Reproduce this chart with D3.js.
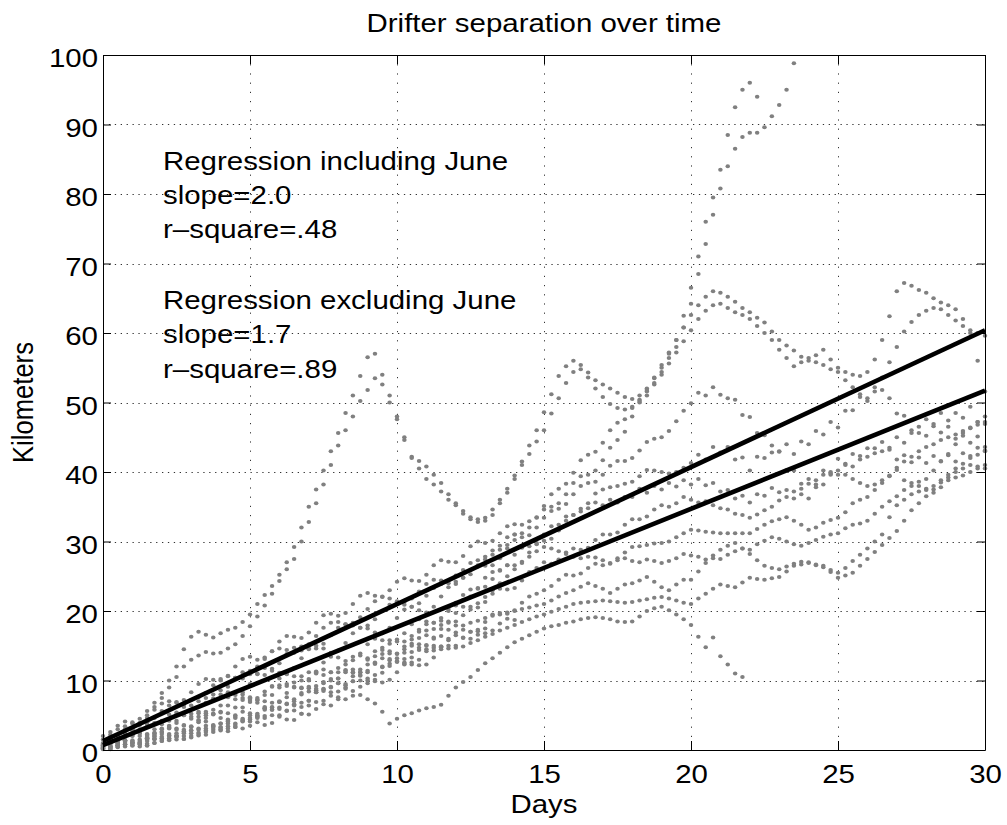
<!DOCTYPE html>
<html>
<head>
<meta charset="utf-8">
<script src="https://cdn.jsdelivr.net/npm/d3@7"></script>
<style>
  body { margin: 0; background: #fff; }
  svg { display: block; }
  text { font-family: "Liberation Sans", Arial, Helvetica, sans-serif; fill: #000; }
</style>
</head>
<body>
<div id="chart"></div>
<script>
// separations are sampled every STEP days, starting at day 0
const STEP = 0.25;

// km, one array per drifter pair
const juneA = [1.0,1.5,2.2,3.0,3.8,4.5,5.6,6.8,8.2,10.0,12.0,14.5,16.3,17.0,16.6,16.2,16.8,17.3,17.6,18.4,19.5,
  21.0,22.3,23.6,25.2,27.0,29.2,32.0,35.0,37.5,40.2,43.0,45.6,48.5,51.0,53.8,56.5,57.0,54.0,51.0,48.0,
  45.0,42.0,40.5,39.0,38.2,37.2,36.0,35.2,34.0,33.5,33.2,33.0,33.8,35.5,37.0,39.5,41.5,43.8,46.0,48.6,
  51.2,53.8,55.2,56.0,55.4,54.3,53.2,52.6,52.0,51.4,50.8,50.5,51.0,51.8,53.5,55.0,57.0,59.0,62.5,66.5,
  71.0,76.0,79.5,83.5,88.5,92.5,95.0,96.0,94.0];
const juneB = [0.6,1.0,1.6,2.3,3.0,3.9,5.0,6.2,7.5,9.0,10.5,12.0,13.0,13.6,14.1,13.9,14.0,14.6,15.2,16.4,17.8,
  19.2,20.8,22.5,24.3,26.0,27.5,30.0,32.8,35.5,38.2,41.0,43.8,46.0,48.0,50.2,51.8,53.5,52.6,50.0,47.6,
  44.6,42.2,41.6,40.8,39.6,38.4,36.8,35.5,34.4,33.2,32.8,33.4,34.6,36.0,37.6,39.0,41.0,42.6,44.4,46.0,
  48.4,50.6,52.8,54.4,54.8,53.6,52.0,50.8,49.8,49.2,49.0,49.4,50.2,51.0,52.6,54.4,56.4,58.0,60.8,64.2,
  68.5,72.8,77.0,80.8,84.0,86.5,88.2,88.8,88.8,89.6,91.2,92.8,95.0,98.8];
const pairB = [1.5,2.2,3.0,3.4,3.1,3.0,3.6,4.6,5.6,6.4,6.8,6.5,6.4,7.0,8.2,9.3,10.2,10.6,10.4,10.3,10.9,
  12.0,13.3,14.2,14.6,14.4,14.0,14.3,15.2,16.4,17.6,18.3,18.4,18.1,18.3,19.1,20.3,21.4,22.0,21.8,21.4,
  21.3,21.8,22.8,23.9,24.5,24.4,24.3,25.1,25.9,26.9,27.3,27.4,28.1,29.4,30.6,31.0,31.2,32.0,33.4,34.6,
  35.0,35.5,36.8,38.4,39.4,39.6,40.2,41.7,43.5,44.6,45.8,48.0,50.0,52.0,53.6,55.4,57.2,59.0,60.8,62.6,
  64.0,65.2,66.0,65.8,65.2,64.5,63.6,63.0,62.2,61.5,60.2,59.0,58.2,57.5,56.6,56.0,56.8,57.6,56.2,55.0,
  54.4,54.0,53.8,54.4,56.2,59.0,62.4,66.0,67.2,66.8,66.2,65.8,65.0,64.4,64.0,63.4,62.0,60.0,56.0,51.6];
const pairB2 = [0.9,1.0,1.2,1.9,2.8,3.6,4.0,3.9,3.7,4.2,5.1,6.2,7.2,7.6,7.5,7.4,8.0,9.1,10.4,11.2,11.4,
  11.0,10.8,11.4,12.5,13.8,14.7,14.9,14.6,14.6,15.3,16.5,17.6,18.1,17.9,17.6,17.9,18.8,20.0,20.9,21.2,
  20.9,20.6,21.1,22.2,23.3,23.9,24.0,24.2,24.8,25.3,26.4,27.8,28.7,28.8,29.5,31.0,32.4,32.9,33.5,35.1,
  36.8,37.6,38.3,39.9,41.7,42.5,42.9,44.2,46.0,47.1,47.6,49.2,50.4,51.6,52.8,54.0,55.6,57.2,58.8,60.4,
  62.0,63.2,64.0,64.2,63.6,63.0,62.6,62.0,61.0,60.0,59.0,57.6,56.4,55.2,55.8,56.4,55.8,55.4,54.8,54.4,
  53.2,52.2,51.2,50.6,51.6,53.6,55.8,58.0,60.2,61.6,62.6,63.2,63.6,63.4,62.6,61.8,61.0,60.4,60.0,59.6];
const pairC = [0.4,1.0,1.9,2.4,2.3,2.0,2.2,3.0,4.2,5.1,5.4,5.0,4.8,5.5,6.8,8.0,8.6,8.3,7.9,8.3,9.5,
  10.9,11.8,11.7,11.1,11.0,11.8,13.2,14.5,15.0,14.6,14.0,14.3,15.4,16.8,17.6,17.5,16.9,16.8,17.6,19.0,
  20.2,20.6,20.1,19.8,20.6,22.1,23.4,23.9,24.8,25.9,26.6,26.5,26.6,27.6,29.0,30.2,30.6,30.9,32.0,33.4,
  34.4,34.7,35.4,36.8,38.0,38.4,38.6,39.6,40.9,41.6,41.6,42.0,43.1,44.3,44.8,45.0,45.9,47.3,48.8,49.9,
  51.4,51.0,52.2,51.1,50.6,50.4,48.2,47.9,45.6,45.3,42.8,42.9,40.3,40.2,38.3,39.0,38.2,40.2,40.0,41.9,
  41.2,42.6,41.8,43.4,42.7,44.3,43.5,45.0,44.2,46.0,45.6,47.6,46.9,48.5,47.4,48.5,47.8,49.4,47.2,46.9];
const pairD = [0.3,0.4,0.7,1.3,2.0,2.4,2.3,2.0,2.3,3.1,4.2,5.0,5.2,4.8,4.6,5.2,6.4,7.6,8.2,8.0,7.4,
  7.2,7.9,9.1,10.3,10.9,10.6,10.0,10.2,11.3,12.6,13.4,13.3,12.8,12.9,13.9,15.2,16.0,15.8,15.3,15.6,
  16.8,18.1,18.8,18.5,18.3,19.0,20.3,21.2,22.3,23.1,23.2,23.5,24.6,25.9,26.6,26.6,27.1,28.4,29.6,30.1,
  30.4,31.6,33.0,33.8,34.3,35.5,36.9,37.5,37.8,38.0,38.3,38.6,39.4,40.3,40.2,40.0,39.8,40.0,40.6,41.3,
  42.5,41.8,43.6,42.8,43.6,41.8,42.1,40.2,42.2,42.0,43.8,43.0,44.0,42.6,44.4,44.0,45.9,45.4,47.2,46.4,
  48.8,48.9,50.8,50.2,52.2,51.8,50.6,48.4,48.1,45.6,46.5,45.2,46.6,45.7,46.5,44.8,45.6,44.2,45.1,43.6];
const pairX1 = [0.2,0.6,1.2,1.4,1.1,0.9,1.3,2.2,3.0,3.2,2.9,2.7,3.3,4.3,5.0,5.1,4.6,4.4,5.0,6.1,6.9,
  6.8,6.2,6.1,6.9,8.2,9.0,8.9,8.4,8.6,9.8,11.2,11.8,11.5,11.1,11.6,13.0,14.2,14.4,13.9,13.8,
  14.9,16.4,17.3,17.2,17.4,18.6,20.0,20.8,21.6,22.1,23.3,24.8,25.6,25.8,26.6,28.1,29.1,29.3,29.8,31.0,
  32.2,32.4,33.6,33.8,34.7,34.8,35.6,35.2,36.0,35.6,36.4,36.4,37.6,37.0,38.0,37.5,38.4,37.9,38.8,38.2,
  39.0,38.1,38.4,37.2,37.4,36.2,36.6,35.6,36.8,36.6,37.7,37.1,37.4,36.2,36.8,36.2,37.8,38.2,39.6,39.6,
  41.0,40.8,42.3,42.2,43.4,43.0,43.2,41.8,42.4,41.4,42.1,41.3,42.3,41.6,42.4,41.5,42.7,42.3,43.5,43.1];
const pairX2 = [0.8,1.2,1.5,1.3,1.0,1.1,1.7,2.4,2.6,2.3,2.0,2.4,3.3,4.0,4.1,3.6,3.3,3.8,4.8,5.5,5.3,
  4.8,4.9,5.8,7.0,7.6,7.3,6.8,7.1,8.3,9.6,10.0,9.6,9.3,9.9,11.2,12.3,12.4,11.9,12.1,13.2,
  14.5,15.3,15.2,15.1,16.0,17.4,18.3,18.5,19.4,20.2,21.1,22.0,23.0,24.0,25.0,26.0,26.9,27.8,28.6,29.2,
  29.0,28.6,28.2,27.8,27.6,27.8,27.7,27.3,26.9,27.6,28.4,29.2,29.3,29.5,29.7,29.8,30.0,30.6,31.2,31.7,
  31.6,31.4,31.3,31.2,31.2,31.2,31.2,31.2,31.8,32.4,32.9,33.2,33.5,33.0,32.4,31.7,32.0,32.7,33.1,33.4,
  34.2,35.5,36.0,36.4,37.4,38.4,39.4,40.3,38.8,38.4,38.0,37.6,37.0,37.8,38.8,39.2,39.5,40.0,40.5,41.0];
const pairE = [0.6,0.9,0.7,0.5,0.9,1.5,1.8,1.6,1.3,1.6,2.4,2.9,2.8,2.3,2.2,2.9,3.8,4.1,3.6,3.1,3.5,
  4.6,5.8,6.2,5.9,5.7,6.6,8.0,8.9,8.8,8.5,9.0,10.3,11.4,11.6,11.2,11.4,12.6,13.8,14.2,13.9,
  14.0,15.0,16.1,16.5,16.2,16.4,17.3,17.9,17.9,18.3,18.6,19.0,19.3,19.5,19.8,20.0,20.3,20.5,20.8,21.0,
  21.5,22.1,22.6,23.0,23.5,24.0,23.6,23.2,22.6,23.2,23.8,24.0,24.4,24.9,24.2,23.4,23.0,23.8,24.5,24.5,
  25.7,26.9,28.0,28.8,29.4,29.8,29.0,28.2,27.3,26.5,26.2,26.0,26.4,26.8,27.1,27.0,26.6,26.3,25.9,25.5,
  26.2,27.2,28.1,29.0,30.0,31.0,33.5,35.2,36.0,36.8,37.2,37.4,38.0,38.8,39.6,40.5,41.2,42.0,42.5,43.0];
const pairF = [0.5,0.3,0.6,1.0,1.2,0.9,0.7,1.0,1.6,2.0,1.9,1.6,1.8,2.5,3.1,3.2,2.8,2.7,3.3,4.1,4.4,
  4.0,3.6,3.9,4.8,5.6,5.7,5.2,5.1,5.9,7.1,7.8,7.6,7.3,7.8,9.1,10.0,10.1,9.7,10.1,11.2,
  12.3,12.6,12.2,12.3,13.3,14.5,15.0,14.7,14.9,15.4,15.8,16.3,16.7,17.2,17.6,18.0,18.4,18.8,19.2,19.5,
  19.9,20.3,20.6,21.0,21.2,21.3,21.4,21.5,21.4,21.3,21.2,21.3,21.5,21.7,21.9,22.0,21.8,21.5,21.2,21.0,
  21.8,22.5,23.2,23.8,23.6,23.4,24.1,24.8,24.6,24.5,24.7,24.9,25.7,26.5,26.7,26.9,26.7,26.5,25.6,24.8,
  25.1,25.5,26.5,27.5,28.5,29.5,30.5,31.5,33.0,34.5,35.5,36.5,37.5,38.5,39.2,40.0,40.5,41.0,40.8,40.5];
const pairJ = [0.7,1.1,0.9,1.4,2.1,2.4,2.0,1.9,2.6,3.5,3.9,3.6,3.4,4.2,5.3,5.8,5.5,5.3,6.1,7.2,7.6,
  7.2,7.0,7.9,9.0,9.5,9.1,9.0,10.0,11.2,11.6,11.2,11.2,12.3,13.4,13.6,13.2,13.5,14.7,15.8,15.9,
  15.6,15.9,17.0,18.1,18.3,18.0,18.5,19.7,20.6,20.6,20.5,21.3,22.5,23.2,23.1,23.3,24.4,25.6,26.2,27.0,
  26.8,27.4,28.4,29.0,28.8,29.1,30.2,31.0,31.0,31.3,32.4,33.2,33.2,33.6,34.6,35.2,35.0,35.5,36.4,36.0,
  35.6,35.8,35.2,34.8,34.6,34.0,33.8,33.4,33.9,34.5,35.0,35.9,36.4,37.2,37.6,38.3,38.8,39.6,39.8,40.2,
  39.6,39.0,38.4,38.0,38.2,38.8,39.5,40.6,41.5,42.2,43.0,43.6,44.0,44.6,45.0,45.4,45.9,46.4,46.8,47.2];
const pairK = [0.3,0.5,0.9,0.8,0.6,1.0,1.5,1.6,1.3,1.4,2.1,2.6,2.4,2.1,2.6,3.5,3.8,3.4,3.3,4.2,5.0,
  5.0,4.6,5.0,6.1,6.7,6.4,6.2,7.1,8.3,8.7,8.3,8.4,9.5,10.6,10.7,10.3,10.8,12.0,12.9,12.7,
  12.6,13.3,14.4,15.0,14.7,14.8,15.8,16.9,17.3,17.0,17.3,18.4,19.5,19.7,19.6,20.1,21.2,22.1,22.5,23.0,
  23.6,24.5,25.2,25.1,25.4,26.2,26.8,26.6,26.8,27.3,27.6,27.2,27.0,27.4,27.2,26.9,27.2,27.6,28.2,28.0,
  27.8,27.4,27.6,27.5,28.1,28.6,29.0,28.8,29.6,30.1,30.6,30.4,30.0,29.6,29.4,29.8,30.2,30.7,31.0,31.2,
  31.9,32.4,32.6,33.0,34.0,35.0,35.8,36.5,37.4,38.0,38.6,39.0,40.2,41.5,42.6,44.0,45.2,46.3,47.2,48.0];
const pairT = [0.3,0.5,0.9,1.3,1.4,1.3,1.7,2.5,3.1,3.3,3.1,3.5,4.5,5.3,5.5,5.2,5.4,6.4,7.3,7.5,7.2,
  7.5,8.4,9.2,9.3,9.2,9.7,10.6,11.2,11.0,10.8,10.2,9.6,9.0,8.5,7.9,7.3,6.7,5.5,3.8,4.5,
  5.0,5.3,5.7,6.0,6.2,6.5,7.8,9.0,9.8,10.5,11.5,12.5,13.2,14.0,14.8,15.5,16.0,16.5,17.0,17.5,
  17.8,18.0,18.3,18.5,18.8,19.0,19.1,19.0,18.8,18.5,18.4,18.5,19.2,20.0,20.4,20.6,20.1,19.5,18.8,18.0,
  16.3,14.8,16.2,13.5,12.3,11.0,10.5];
const pairG = [0.2,0.1,0.4,0.8,1.0,0.8,0.6,1.0,1.7,2.1,1.9,1.6,2.0,2.9,3.5,3.4,3.0,3.1,3.8,4.5,4.6,
  5.2,6.0,5.8,5.0,4.4,4.3,5.2,6.4,6.9,6.6,6.4,7.3,8.8,9.9,10.0,9.6,9.9,11.1,12.4,12.8,
  12.4,12.3,13.0,14.2,15.0,14.9,14.6,15.0,16.1,17.0,17.1,16.8,17.2,18.2,18.9,18.7];
const pairH = [2.0,2.6,3.5,4.1,4.0,3.9,4.6,5.8,6.7,7.0,6.9,7.2,8.3,9.5,10.2,10.1,10.0,10.7,12.0,13.1,13.4,
  13.0,13.1,14.2,15.6,16.4,16.3,16.1,16.9,18.3,19.4,19.6,19.3,19.7,21.0,22.2,22.6,22.2,22.1,23.0,24.2,
  24.7,24.4,24.3,25.2,26.6,27.3,27.1,27.0,27.9,29.3,30.0,29.8,30.1,31.2,32.2,32.5];
const pairI = [0.1,0.2,0.5,0.8,0.7,0.5,0.9,1.6,1.9,1.7,1.5,2.0,2.8,3.1,2.8,2.6,3.2,4.2,4.6,4.3,4.1,
  4.8,6.0,6.8,6.9,6.6,7.0,8.2,9.1,9.2,8.8,9.1,10.3,11.2,11.2,10.8,11.2,12.4,13.2,13.1,12.7,
  13.1,14.1,14.7,14.5,14.3,14.9,16.0,16.5,16.2,16.0,16.6,17.5];

const tracks = [juneA, juneB, pairB, pairB2, pairC, pairD, pairX1, pairX2, pairE, pairF,
  pairJ, pairK, pairT, pairG, pairH, pairI];

// least-squares fits drawn over the scatter
const regSlope = [1.97, 1.70];
const regIntercept = [1.3, 0.7];
const noteIncl = ["Regression including June", "slope=2.0", "r\u2013square=.48"];
const noteExcl = ["Regression excluding June", "slope=1.7", "r\u2013square=.89"];

const xTicks = [0, 5, 10, 15, 20, 25, 30];
const yTicks = [0, 10, 20, 30, 40, 50, 60, 70, 80, 90, 100];

const width = 1007, height = 825;
const plotL = 103, plotR = 985, plotT = 55, plotB = 750;
const SX = 1.15;      // the figure is a bit wider than tall, glyphs are stretched too
const fs = 25.6;

const svg = d3.select("#chart").append("svg")
  .attr("width", width)
  .attr("height", height);

const x = d3.scaleLinear().domain([0, 30]).range([plotL, plotR]);
const y = d3.scaleLinear().domain([0, 100]).range([plotB, plotT]);

// dotted grid
const grid = svg.append("g").attr("stroke", "#333").attr("stroke-width", 1);
grid.selectAll(".gx")
  .data(xTicks.slice(1, -1))
  .join("line")
  .attr("x1", d => Math.round(x(d)) + 0.5).attr("x2", d => Math.round(x(d)) + 0.5)
  .attr("y1", plotT).attr("y2", plotB)
  .attr("stroke-dasharray", "1.2,8");
grid.selectAll(".gy")
  .data(yTicks.slice(1, -1))
  .join("line")
  .attr("x1", plotL).attr("x2", plotR)
  .attr("y1", d => Math.round(y(d)) + 0.5).attr("y2", d => Math.round(y(d)) + 0.5)
  .attr("stroke-dasharray", "1.3,4.6");

// scatter
const points = tracks.flatMap(tr => tr.map((km, i) => [i * STEP, km]));
svg.append("g")
  .attr("fill", "#808080")
  .selectAll("ellipse")
  .data(points)
  .join("ellipse")
  .attr("cx", d => x(d[0]))
  .attr("cy", d => y(d[1]))
  .attr("rx", 2.25)
  .attr("ry", 2.0);

// regression lines
svg.append("g")
  .selectAll("line")
  .data(regSlope.map((s, i) => ({ s, b: regIntercept[i] })))
  .join("line")
  .attr("x1", x(0)).attr("y1", d => y(d.b))
  .attr("x2", x(30)).attr("y2", d => y(d.b + d.s * 30))
  .attr("stroke", "#000")
  .attr("stroke-width", 4.6);

// axes, ticks point inwards on all four sides
function styleAxis(g) {
  g.attr("font-family", null).attr("font-size", null);
  g.select(".domain").attr("stroke", "#000").attr("stroke-width", 1);
  g.selectAll(".tick line").attr("stroke", "#000").attr("stroke-width", 1);
}

svg.append("g")
  .attr("transform", `translate(0,${plotB})`)
  .call(d3.axisBottom(x).tickValues(xTicks).tickSizeInner(-9).tickSizeOuter(0))
  .call(styleAxis)
  .call(g => g.selectAll(".tick text")
    .attr("y", null).attr("dy", null)
    .style("font-size", fs + "px")
    .attr("transform", `translate(0,33) scale(${SX},1)`));

svg.append("g")
  .attr("transform", `translate(0,${plotT})`)
  .call(d3.axisTop(x).tickValues(xTicks).tickSizeInner(-9).tickSizeOuter(0).tickFormat(""))
  .call(styleAxis);

svg.append("g")
  .attr("transform", `translate(${plotL},0)`)
  .call(d3.axisLeft(y).tickValues(yTicks).tickSizeInner(-8).tickSizeOuter(0))
  .call(styleAxis)
  .call(g => g.selectAll(".tick text")
    .attr("x", null).attr("dy", null)
    .style("font-size", fs + "px")
    .attr("transform", `translate(-5,11.7) scale(${SX},1)`));

svg.append("g")
  .attr("transform", `translate(${plotR},0)`)
  .call(d3.axisRight(y).tickValues(yTicks).tickSizeInner(-8).tickSizeOuter(0).tickFormat(""))
  .call(styleAxis);

// labels
function label(txt, tx, ty, anchor, extra) {
  svg.append("text")
    .attr("transform", `translate(${tx},${ty}) scale(${SX},1)` + (extra || ""))
    .attr("text-anchor", anchor)
    .style("font-size", fs + "px")
    .text(txt);
}

label("Drifter separation over time", (plotL + plotR) / 2, 31.7, "middle");
label("Days", (plotL + plotR) / 2, 812.7, "middle");
label("Kilometers", 33, (plotT + plotB) / 2, "middle", " rotate(-90)");

noteIncl.forEach((t, i) => label(t, 163, 170 + i * 34.2, "start"));
noteExcl.forEach((t, i) => label(t, 163, 309.2 + i * 34.2, "start"));
</script>
</body>
</html>
